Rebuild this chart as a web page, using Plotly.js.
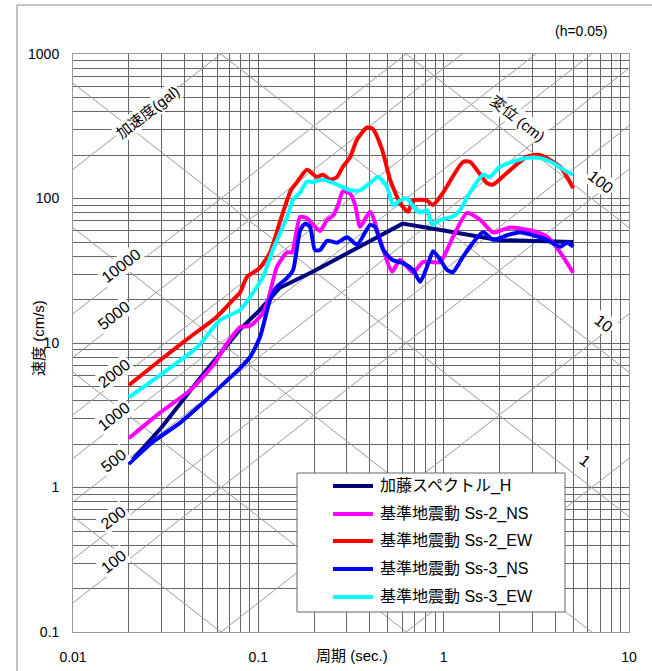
<!DOCTYPE html>
<html><head><meta charset="utf-8">
<script src="https://cdn.plot.ly/plotly-3.0.1.min.js"></script>
<style>html,body{margin:0;padding:0;background:#fff}</style>
</head><body><div id="chart" style="width:652px;height:671px"></div>
<script>
// ---- data ----
const seriesNames = ['加藤スペクトル_H','基準地震動 Ss-2_NS','基準地震動 Ss-2_EW','基準地震動 Ss-3_NS','基準地震動 Ss-3_EW'];
const seriesColors = ['#000080','#FF00FF','#FF0000','#0000FF','#00FFFF'];

const katoT = [0.02,0.03,0.05,0.08,0.1,0.13,0.2,0.3,0.6,1.0,2.0,5.0];
const katoV = [1.46,2.6,6.0,12.5,16.5,24,31.5,41.5,67,60,51.5,50];

const ss2nsT = [0.02,0.0295,0.0428,0.057,0.068,0.080,0.090,0.106,0.113,0.126,0.143,0.152,0.168,0.183,0.197,0.215,0.235,0.253,0.269,0.286,0.313,0.333,0.354,0.401,0.454,0.527,0.582,0.684,0.774,0.957,1.124,1.337,1.571,1.848,2.28,3.04,3.61,4.25,5.0];
const ss2nsV = [2.19,3.3,4.7,7.0,10.0,12.9,13.1,16.1,19.9,33.7,42.4,42.4,74.6,73,66,59.6,71,76,90,112,108,90,63.7,81,51.8,31.2,37.7,30.7,36.4,36.4,54.4,79.6,71.3,58.3,63.1,59.6,54.4,42.5,30.6];

const ss2ewT = [0.02,0.0295,0.0428,0.0598,0.073,0.0797,0.0869,0.1016,0.1157,0.1317,0.1499,0.162,0.183,0.207,0.223,0.244,0.266,0.286,0.313,0.341,0.386,0.415,0.465,0.514,0.582,0.643,0.684,0.81,0.874,0.989,1.27,1.39,1.71,1.85,2.19,2.80,3.29,4.25,5.0];
const ss2ewV = [5.1,7.6,11.0,15.2,19.9,22.3,28.7,33,42.4,71,114,130,158,141,146,135,141,166,194,256,310,303,219,135,93,81,97,97,90,109,179,179,128,125,150,194,200,166,118];

const ss3nsT = [0.02,0.027,0.0378,0.0485,0.0598,0.0797,0.0903,0.1021,0.1157,0.126,0.143,0.154,0.168,0.1786,0.190,0.202,0.215,0.235,0.266,0.301,0.341,0.401,0.426,0.471,0.527,0.604,0.684,0.746,0.813,0.877,0.957,1.045,1.124,1.273,1.441,1.632,1.848,2.198,2.58,3.04,3.61,4.25,4.63,5.0];
const ss3nsV = [1.46,2.07,2.8,3.7,4.74,6.7,8.0,11,19.9,24.5,28.2,32,60,67,63.7,44,44,51,49.5,54,48,65.6,63.7,44.3,37.7,35.7,31.9,26.5,33.6,43.2,37.7,31.9,31,39.6,49.5,58.3,51.8,55.7,58.5,55.7,51.8,46.4,49.5,46.4];

const ss3ewT = [0.02,0.0295,0.0467,0.0621,0.0797,0.0937,0.106,0.120,0.143,0.154,0.168,0.183,0.197,0.223,0.266,0.313,0.354,0.401,0.443,0.495,0.533,0.582,0.635,0.684,0.746,0.813,0.866,0.957,1.124,1.225,1.388,1.632,1.78,2.01,2.37,2.82,3.29,3.89,4.63,5.0];
const ss3ewV = [4.2,6.0,9.3,14.4,16.9,22.3,28.7,44.3,74.6,98,110,131,130,135,125,114,114,128,141,120,90,97,100,88,80,83,66,71,75,83,110,146,141,166,180,191,191,176,153,146];

const accelLines = [1,10,100,200,500,1000,2000,5000,10000,100000];
const accelLabelVals = [100,200,500,1000,2000,5000,10000];
const dispLines = [0.001,0.01,0.1,1,10,100];
const dispLabels = ['100','10','1'];

const xTickDecades = [0.01,0.1,1,10];
const xTickText = ['0.01','0.1','1','10'];
const yTickDecades = [0.1,1,10,100,1000];
const yTickText = ['0.1','1','10','100','1000'];

// ---- build ----
const FONT = '"Liberation Sans", Arial, "Noto Sans CJK JP", sans-serif';
const TWO_PI = 2*Math.PI;
function gridVals(decs){const v=[];for(let i=0;i<decs.length-1;i++){for(let k=1;k<10;k++)v.push(+(k*decs[i]).toPrecision(3));}v.push(decs[decs.length-1]);return v;}
function gridText(decs,txt){const vals=gridVals(decs);return vals.map(v=>{const i=decs.indexOf(v);return i>=0?txt[i]:'';});}

const traces = [];
const xEnds = [0.001, 100];
accelLines.forEach(a=>traces.push({x:xEnds,y:xEnds.map(t=>a*t/TWO_PI),mode:'lines',line:{color:'#9a9a9a',width:1},hoverinfo:'skip',showlegend:false}));
dispLines.forEach(d=>traces.push({x:xEnds,y:xEnds.map(t=>TWO_PI*d/t),mode:'lines',line:{color:'#9a9a9a',width:1},hoverinfo:'skip',showlegend:false}));

const dataT = [katoT,ss2nsT,ss2ewT,ss3nsT,ss3ewT];
const dataV = [katoV,ss2nsV,ss2ewV,ss3nsV,ss3ewV];
dataT.forEach((T,i)=>traces.push({x:T,y:dataV[i],name:seriesNames[i],mode:'lines',
  line:{color:seriesColors[i],width:4,shape:i===0?'linear':'spline',smoothing:0.6},showlegend:false}));

const annotations = [];
const ANG = Math.atan(144.5/185.3)*180/Math.PI;
accelLabelVals.forEach(a=>{
  const t = a===10000?0.0183:0.0166;
  annotations.push({xref:'x',yref:'y',x:Math.log10(t),y:Math.log10(a*t/TWO_PI),yshift:10,xanchor:'center',yanchor:'middle',text:String(a),showarrow:false,
    textangle:-ANG,bgcolor:'#fff',borderpad:1,font:{family:FONT,size:16,color:'#000'}});
});
function px2x(px){return (px-73)/556;}
function py2y(py){return (632-py)/578;}
function paperNote(px,py,text,size,angle,bg){
  const o={xref:'paper',yref:'paper',x:px2x(px),y:py2y(py),xanchor:'center',yanchor:'middle',text:text,showarrow:false,font:{family:FONT,size:size,color:'#000'}};
  if(angle)o.textangle=angle; if(bg){o.bgcolor='#fff';o.borderpad=1;} return o;
}
const dispLabelPos = [[600,182],[604,323],[585,460]];
dispLabels.forEach((s,i)=>annotations.push(paperNote(dispLabelPos[i][0],dispLabelPos[i][1],s,16,ANG,true)));
annotations.push(paperNote(147,112,'加速度(gal)',15,-ANG,true));
annotations.push(paperNote(518,118,'変位 (cm)',15,ANG,true));
annotations.push(paperNote(581,31,'(h=0.05)',14,0,false));
annotations.push(paperNote(352,655,'周期 (sec.)',15,0,false));
annotations.push(paperNote(38,338,'速度 (cm/s)',15,-90,false));

// manual legend
const shapes = [
  {type:'line',xref:'paper',yref:'paper',x0:px2x(17),x1:px2x(17),y0:py2y(5),y1:py2y(700),line:{color:'#8a8a8a',width:1}},
  {type:'line',xref:'paper',yref:'paper',x0:px2x(17),x1:px2x(700),y0:py2y(5),y1:py2y(5),line:{color:'#8a8a8a',width:1}},
  {type:'rect',xref:'paper',yref:'paper',x0:px2x(297),x1:px2x(565),y0:py2y(612),y1:py2y(473),fillcolor:'#fff',line:{color:'#666',width:1},layer:'above'}
];
const rowPy = [486,514,541,569,597];
seriesNames.forEach((n,i)=>{
  shapes.push({type:'line',xref:'paper',yref:'paper',x0:px2x(333),x1:px2x(373),y0:py2y(rowPy[i]),y1:py2y(rowPy[i]),line:{color:seriesColors[i],width:4},layer:'above'});
  annotations.push({xref:'paper',yref:'paper',x:px2x(378),y:py2y(rowPy[i]),xanchor:'left',yanchor:'middle',text:n,showarrow:false,font:{family:FONT,size:16,color:'#000'}});
});

const axisCommon = {type:'log',showgrid:true,gridcolor:'#666',gridwidth:1,zeroline:false,showline:true,mirror:true,linecolor:'#999',linewidth:1,ticks:'',tickfont:{family:FONT,size:14,color:'#000'}};
const layout = {
  width:652,height:671,margin:{l:73,r:23,t:54,b:39},paper_bgcolor:'#fff',plot_bgcolor:'#fff',showlegend:false,
  xaxis:Object.assign({},axisCommon,{range:[-2,1],tickmode:'array',tickvals:gridVals(xTickDecades),ticktext:gridText(xTickDecades,xTickText),ticklabelstandoff:12}),
  yaxis:Object.assign({},axisCommon,{range:[-1,3],tickmode:'array',tickvals:gridVals(yTickDecades),ticktext:gridText(yTickDecades,yTickText),ticklabelstandoff:10}),
  annotations:annotations,shapes:shapes
};
Plotly.newPlot('chart',traces,layout,{displayModeBar:false,staticPlot:true});
</script></body></html>
